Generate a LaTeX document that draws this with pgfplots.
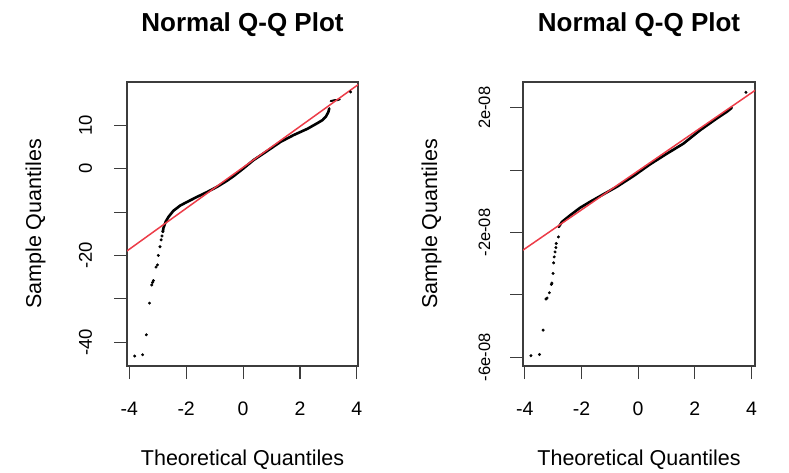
\documentclass[border=0pt]{standalone}
\usepackage{pgfplots}
\pgfplotsset{compat=1.18}
\usepackage{fontspec}
\setmainfont{Liberation Sans}
\definecolor{qqred}{RGB}{236,60,72}
\definecolor{boxgray}{RGB}{60,60,60}
\pgfplotsset{
  qqaxis/.style={
    scale only axis, width=231pt, height=284pt,
    axis line style={boxgray, line width=1.1pt},
    tick align=outside, tick pos=left,
    major tick length=13pt,
    scaled y ticks=false, scaled x ticks=false,
    every tick/.style={boxgray, line width=1.1pt},
    xtick={-4,-2,0,2,4}, xticklabels={-4,-2,0,2,4},
    xticklabel style={anchor=base, yshift=-36pt, font=\fontsize{19.5}{22}\selectfont},
    yticklabel style={rotate=90, anchor=base, font=\fontsize{18.5}{22}\selectfont},
    yticklabel shift=22pt,
    title style={at={(axis description cs:0.5,1.156)}, anchor=base, font=\bfseries\fontsize{26}{30}\selectfont},
    xlabel style={at={(axis description cs:0.5,-0.349)}, anchor=base, font=\fontsize{21.5}{26}\selectfont},
    ylabel style={at={(axis description cs:-0.372,0.5)}, anchor=base, rotate=0, font=\fontsize{21.5}{26}\selectfont},
    title={Normal Q-Q Plot}, xlabel={Theoretical Quantiles}, ylabel={Sample Quantiles},
  },
  dense/.style={black, line width=2.6pt, line cap=round, line join=round},
  tail/.style={only marks, mark=*, mark size=1.3pt, black},
  qqline/.style={qqred, line width=1.5pt},
}
\begin{document}
\begin{tikzpicture}
\useasboundingbox (0,0) rectangle (789pt,472pt);
% ---------------- left panel ----------------
\begin{axis}[qqaxis, at={(127pt,106pt)}, anchor=south west,
  xmin=-4.08, xmax=4.04, ymin=-45.5, ymax=20.0,
  ytick={-40,-30,-20,-10,0,10}, yticklabels={-40,,-20,,0,10}]
\addplot[tail] coordinates {
(-3.81,-43.2) (-3.53,-42.9) (-3.40,-38.3) (-3.29,-31.0) (-3.21,-26.8) (-3.18,-26.2)
(-3.15,-25.8) (-3.06,-22.7) (-3.01,-22.2) (-2.98,-20.0) (-2.92,-18.0) (-2.88,-16.4)
(-2.85,-15.5) (-2.82,-14.5)
};
\addplot[dense] coordinates {
(-2.82,-14.5) (-2.80,-13.7) (-2.72,-12.2) (-2.62,-11.1) (-2.45,-9.7) (-2.21,-8.5)
(-1.98,-7.7) (-1.62,-6.5) (-1.27,-5.4) (-0.92,-4.2) (-0.57,-2.8) (-0.33,-1.7)
(0.02,0.1) (0.37,2.0) (0.85,4.1) (1.32,6.2) (1.79,7.8) (2.26,9.2) (2.61,10.5)
(2.79,11.2) (2.91,12.0) (3.00,13.1) (3.03,13.9)
};
\addplot[dense, line width=2pt] coordinates {
(3.08,15.6) (3.15,15.7) (3.22,15.8) (3.30,15.8) (3.40,16.0)
};
\addplot[tail] coordinates {(3.78,17.7)};
\addplot[qqline] coordinates {(-4.5,-20.94) (4.5,21.54)};
\end{axis}
% ---------------- right panel ----------------
\begin{axis}[qqaxis, at={(523pt,106pt)}, anchor=south west, width=232pt,
  xmin=-4.06, xmax=4.12, ymin=-6.28e-8, ymax=2.83e-8,
  ytick={-6e-8,-4e-8,-2e-8,0,2e-8}, yticklabels={-6e-08,,-2e-08,,2e-08},
  yticklabel style={font=\fontsize{16.5}{20}\selectfont},
  yticklabel shift=20pt,
  ylabel style={at={(axis description cs:-0.37,0.5)}}]
\addplot[tail] coordinates {
(-3.78,-5.95e-8) (-3.48,-5.91e-8) (-3.35,-5.13e-8) (-3.25,-4.13e-8) (-3.21,-4.10e-8)
(-3.13,-3.93e-8) (-3.06,-3.66e-8) (-3.04,-3.62e-8) (-3.00,-3.31e-8) (-2.98,-2.97e-8)
(-2.96,-2.78e-8) (-2.93,-2.62e-8) (-2.90,-2.48e-8) (-2.89,-2.35e-8) (-2.81,-2.14e-8)
};
\addplot[dense] coordinates {
(-2.80,-1.82e-8) (-2.69,-1.66e-8) (-2.39,-1.44e-8) (-2.04,-1.20e-8) (-1.69,-1.01e-8)
(-1.34,-0.83e-8) (-0.75,-0.53e-8) (-0.17,-0.19e-8) (0.42,0.19e-8) (1.01,0.53e-8)
(1.59,0.85e-8) (2.18,1.28e-8) (2.77,1.66e-8) (3.12,1.87e-8) (3.30,2.00e-8)
};
\addplot[tail] coordinates {(3.80,2.50e-8)};
\addplot[qqline] coordinates {(-4.5,-2.837e-8) (4.5,2.797e-8)};
\end{axis}
\end{tikzpicture}
\end{document}
